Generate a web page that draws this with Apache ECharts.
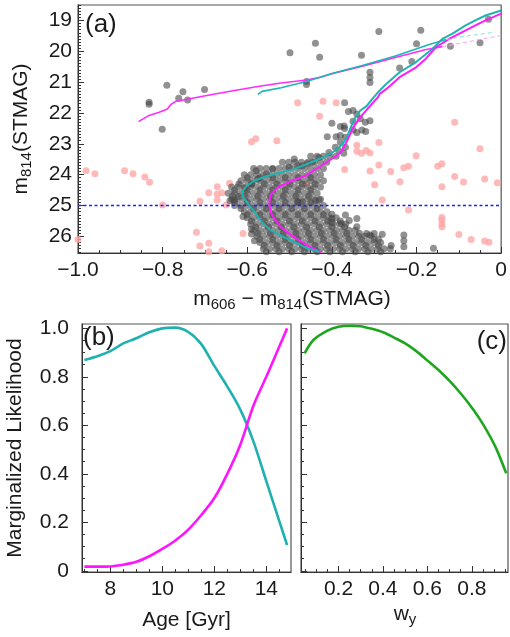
<!DOCTYPE html>
<html><head><meta charset="utf-8">
<script src="https://cdn.jsdelivr.net/npm/echarts@6/dist/echarts.min.js"></script>
<style>html,body{margin:0;padding:0;background:#fff}#c{width:510px;height:637px}</style>
</head><body><div id="c"></div>
<script>
// ---------------- DATA ----------------
// Panel (a): colour-magnitude diagram
const grayRows = [
 [23.4, [-0.450,-0.435,-0.420,-0.405,-0.390]],
 [23.6, [-0.517,-0.502,-0.487,-0.472,-0.457,-0.442,-0.427,-0.412]],
 [23.8, [-0.585,-0.570,-0.555,-0.540,-0.525,-0.510,-0.495,-0.480,-0.465,-0.450,-0.435,-0.420]],
 [24.0, [-0.607,-0.592,-0.577,-0.562,-0.547,-0.532,-0.517,-0.502,-0.487,-0.472,-0.457,-0.442,-0.427]],
 [24.2, [-0.615,-0.600,-0.585,-0.570,-0.555,-0.540,-0.525,-0.510,-0.495,-0.480,-0.465,-0.450,-0.435,-0.420]],
 [24.4, [-0.637,-0.622,-0.607,-0.592,-0.577,-0.562,-0.547,-0.532,-0.517,-0.502,-0.487,-0.472,-0.457,-0.442,-0.427]],
 [24.6, [-0.645,-0.630,-0.615,-0.600,-0.585,-0.570,-0.555,-0.540,-0.525,-0.510,-0.495,-0.480,-0.465,-0.450,-0.435]],
 [24.8, [-0.637,-0.622,-0.607,-0.592,-0.577,-0.562,-0.547,-0.532,-0.517,-0.502,-0.487,-0.472,-0.457,-0.442,-0.427]],
 [25.0, [-0.630,-0.615,-0.600,-0.585,-0.570,-0.555,-0.540,-0.525,-0.510,-0.495,-0.480,-0.465,-0.450,-0.435,-0.420]],
 [25.2, [-0.607,-0.592,-0.577,-0.562,-0.547,-0.532,-0.517,-0.502,-0.487,-0.472,-0.457,-0.442,-0.427,-0.412]],
 [25.4, [-0.600,-0.585,-0.570,-0.555,-0.540,-0.525,-0.510,-0.495,-0.480,-0.465,-0.450,-0.435,-0.420,-0.405,-0.390]],
 [25.6, [-0.592,-0.577,-0.562,-0.547,-0.532,-0.517,-0.502,-0.487,-0.472,-0.457,-0.442,-0.427,-0.412,-0.397,-0.382,-0.367]],
 [25.8, [-0.585,-0.570,-0.555,-0.540,-0.525,-0.510,-0.495,-0.480,-0.465,-0.450,-0.435,-0.420,-0.405,-0.390,-0.375,-0.360,-0.345]],
 [26.0, [-0.577,-0.562,-0.547,-0.532,-0.517,-0.502,-0.487,-0.472,-0.457,-0.442,-0.427,-0.412,-0.397,-0.382,-0.367,-0.352,-0.337,-0.322,-0.307]],
 [26.2, [-0.570,-0.555,-0.540,-0.525,-0.510,-0.495,-0.480,-0.465,-0.450,-0.435,-0.420,-0.405,-0.390,-0.375,-0.360,-0.345,-0.330,-0.315,-0.300,-0.285]],
 [26.4, [-0.562,-0.547,-0.532,-0.517,-0.502,-0.487,-0.472,-0.457,-0.442,-0.427,-0.412,-0.397,-0.382,-0.367,-0.352,-0.337,-0.322,-0.307,-0.292,-0.277,-0.262]]
];
const grayCoreRows = [
 [24.1, [-0.600,-0.570,-0.540,-0.510,-0.480,-0.450]],
 [24.3, [-0.620,-0.590,-0.560,-0.530,-0.500,-0.470,-0.440]],
 [24.5, [-0.630,-0.600,-0.570,-0.540,-0.510,-0.480,-0.450]],
 [24.7, [-0.635,-0.605,-0.575,-0.545,-0.515,-0.485,-0.455]],
 [24.9, [-0.630,-0.600,-0.570,-0.540,-0.510,-0.480,-0.450]],
 [25.1, [-0.615,-0.585,-0.555,-0.525,-0.495,-0.465,-0.435]],
 [25.3, [-0.600,-0.570,-0.540,-0.510,-0.480,-0.450,-0.420]],
 [25.5, [-0.590,-0.560,-0.530,-0.500,-0.470,-0.440,-0.410,-0.380]],
 [25.7, [-0.580,-0.550,-0.520,-0.490,-0.460,-0.430,-0.400,-0.370]],
 [25.9, [-0.575,-0.545,-0.515,-0.485,-0.455,-0.425,-0.395,-0.365,-0.335]],
 [26.1, [-0.570,-0.540,-0.510,-0.480,-0.450,-0.420,-0.390,-0.360,-0.330,-0.300]],
 [26.3, [-0.560,-0.530,-0.500,-0.470,-0.440,-0.410,-0.380,-0.350,-0.320,-0.290,-0.260]],
 [26.5, [-0.555,-0.525,-0.495,-0.465,-0.435,-0.405,-0.375,-0.345,-0.315,-0.285]]
];
const graySparse = [
 [-0.832,21.65],[-0.832,21.72],[-0.790,21.10],[-0.762,21.52],[-0.752,21.31],[-0.741,21.58],[-0.701,21.24],[-0.801,22.53],
 [-0.499,20.05],[-0.439,19.74],[-0.429,20.19],[-0.289,19.36],[-0.190,19.32],[-0.200,19.76],[-0.330,20.13],[-0.240,20.54],
 [-0.211,20.33],[-0.310,20.68],[-0.310,20.85],[-0.310,21.01],[-0.460,20.98],[-0.460,21.08],[-0.120,19.84],[-0.050,19.72],[-0.030,18.96],
 [-0.370,21.67],[-0.361,21.95],[-0.350,21.92],[-0.341,22.03],[-0.350,22.27],[-0.321,22.30],[-0.310,22.25],[-0.400,22.33],
 [-0.380,22.44],[-0.371,22.42],[-0.370,22.50],[-0.411,22.77],[-0.390,22.77],[-0.380,22.73],[-0.350,22.55],[-0.341,22.63],
 [-0.329,22.55],[-0.320,22.60],[-0.333,22.19],[-0.368,22.79],[-0.380,22.95],[-0.392,23.11],[-0.384,23.22],[-0.407,23.28],
 [-0.431,23.44],[-0.489,23.49],[-0.446,23.60],[-0.458,23.65],[-0.470,23.71],[-0.481,23.71],[-0.501,23.76],
 [-0.540,23.82],[-0.555,23.98],[-0.579,23.87],[-0.575,24.14],[-0.590,24.30],[-0.606,24.43],[-0.372,23.31],[-0.368,23.11],
 [-0.481,24.88],[-0.470,24.88],[-0.439,24.84],[-0.430,24.82],[-0.341,25.42],[-0.341,25.69],[-0.359,25.49],[-0.368,25.31],
 [-0.378,25.58],[-0.400,25.28],[-0.400,25.42],[-0.400,25.55],[-0.318,25.91],[-0.310,25.96],[-0.300,25.91],[-0.281,25.93],
 [-0.290,26.09],[-0.230,25.96],[-0.230,26.14],[-0.230,26.34],[-0.160,26.39],
 [-0.621,24.71],[-0.631,24.82],[-0.641,24.85],[-0.610,25.36],[-0.590,25.76],[-0.590,25.92],[-0.583,26.14]
];
const pinkPts = [
 [-1.0,26.1],[-0.981,23.87],[-0.960,23.97],[-0.890,23.87],[-0.870,23.97],[-0.842,24.08],[-0.831,24.25],[-0.800,24.98],
 [-0.712,24.86],[-0.720,25.87],[-0.712,26.31],[-0.691,26.22],[-0.691,26.50],[-0.660,26.47],[-0.691,24.59],[-0.671,24.39],
 [-0.671,24.63],[-0.660,24.59],[-0.671,24.82],[-0.642,24.28],[-0.650,24.98],[-0.610,25.91],
 [-0.590,22.93],[-0.580,22.84],[-0.530,22.90],[-0.481,21.67],[-0.421,21.62],[-0.390,21.67],[-0.429,22.11],[-0.110,22.30],
 [-0.341,23.05],[-0.289,22.96],[-0.050,23.16],[-0.341,23.24],[-0.330,23.31],[-0.319,23.22],[-0.310,23.30],[-0.370,23.83],
 [-0.310,23.88],[-0.460,24.30],[-0.201,23.39],[-0.289,23.69],[-0.261,23.90],[-0.230,23.78],[-0.219,23.73],[-0.150,23.73],
 [-0.140,23.65],[-0.110,24.06],[-0.089,24.24],[-0.039,24.14],[-0.009,24.26],[-0.140,24.39],[-0.239,24.23],[-0.299,24.33],
 [-0.281,24.82],[-0.219,25.15],[-0.140,25.39],[-0.140,25.47],[-0.140,25.60],[-0.140,25.69],[-0.100,25.94],[-0.071,26.10],
 [-0.039,26.15],[-0.029,26.19]
];
const cyanIso = [
 [-0.430,26.50],[-0.460,26.38],[-0.490,26.17],[-0.520,25.98],[-0.547,25.78],[-0.565,25.55],[-0.582,25.22],[-0.598,24.95],
 [-0.610,24.72],[-0.612,24.55],[-0.600,24.35],[-0.582,24.19],[-0.555,24.05],[-0.520,23.93],[-0.490,23.82],[-0.462,23.67],
 [-0.440,23.55],[-0.420,23.43],[-0.400,23.30],[-0.385,23.15],[-0.372,22.95],[-0.362,22.70],[-0.355,22.45],[-0.345,22.15],
 [-0.333,21.92],[-0.318,21.78],[-0.305,21.55],[-0.291,21.33],[-0.271,21.05],[-0.240,20.68],[-0.201,20.35],[-0.162,19.92],
 [-0.139,19.60],[-0.115,19.43],[-0.084,19.16],[-0.061,19.00],[-0.037,18.84],[0.0,18.68]
];
const magentaIso = [
 [-0.425,26.52],[-0.455,26.32],[-0.477,26.14],[-0.500,25.92],[-0.520,25.71],[-0.535,25.45],[-0.545,25.20],[-0.548,24.92],
 [-0.545,24.65],[-0.528,24.41],[-0.493,24.19],[-0.462,24.03],[-0.431,23.76],[-0.407,23.55],[-0.388,23.38],[-0.376,23.22],
 [-0.364,22.90],[-0.349,22.46],[-0.333,22.14],[-0.318,21.90],[-0.300,21.62],[-0.291,21.49],[-0.287,21.38],[-0.271,21.22],
 [-0.240,20.84],[-0.201,20.52],[-0.178,20.24],[-0.154,19.87],[-0.123,19.60],[-0.084,19.32],[-0.061,19.16],[-0.037,19.00],[0.0,18.78]
];
const cyanHB = [[-0.575,21.40],[-0.565,21.30],[-0.520,21.18],[-0.460,20.98],[-0.400,20.72],[-0.330,20.47],[-0.250,20.15],[-0.170,19.78],[-0.130,19.62]];
const cyanHBFaint = [[-0.130,19.62],[-0.090,19.52],[-0.014,19.38]];
const magentaHB = [[-0.857,22.28],[-0.832,22.08],[-0.808,21.98],[-0.789,21.87],[-0.781,21.73],[-0.770,21.63],[-0.699,21.44],[-0.637,21.29],
 [-0.575,21.14],[-0.520,21.03],[-0.460,20.93],[-0.427,20.84],[-0.400,20.73],[-0.330,20.49],[-0.250,20.20],[-0.180,19.95],[-0.139,19.85]];
const magentaHBFaint = [[-0.139,19.85],[-0.070,19.67],[0.0,19.49]];
const magLimit = 25;

// Panel (b): marginalized likelihood vs age
const ageGyr = [7.0,7.5,8.0,8.5,9.0,9.5,10.0,10.5,11.0,11.5,12.0,12.5,13.0,13.5,14.0,14.5,14.8];
const ageLikeCyan = [0.869,0.885,0.906,0.938,0.959,0.984,1.0,1.003,0.985,0.935,0.845,0.760,0.665,0.535,0.37,0.205,0.106];
const ageLikeMagenta = [0.017,0.017,0.018,0.025,0.037,0.060,0.090,0.125,0.170,0.230,0.300,0.400,0.520,0.680,0.800,0.925,1.0];

// Panel (c): marginalized likelihood vs w_y
const wy = [0.047,0.087,0.148,0.2,0.253,0.298,0.35,0.403,0.45,0.5,0.55,0.598,0.65,0.703,0.756,0.808,0.853,0.906,0.955];
const wyLike = [0.897,0.952,0.990,1.007,1.011,1.009,0.998,0.983,0.962,0.938,0.906,0.869,0.828,0.780,0.725,0.663,0.601,0.512,0.402];

// Tick labels
const cmdYTicks = [19,20,21,22,23,24,25,26];
const ageTicks = [8,10,12,14];
const likeTicks = [0,0.2,0.4,0.6,0.8,1.0];
const wyTicks = [0.2,0.4,0.6,0.8];

// ---------------- BUILD ----------------
function minorList(lo, hi, step, major) {
  const out = [];
  const n0 = Math.ceil(lo/step - 1e-9), n1 = Math.floor(hi/step + 1e-9);
  for (let k = n0; k <= n1; k++) {
    const v = +(k*step).toFixed(4);
    if (Math.abs(v/major - Math.round(v/major)) > 1e-6) out.push(v);
  }
  return out;
}
const grayData = grayRows.concat(grayCoreRows).flatMap(([m, xs]) => xs.map(x => [x, m])).concat(graySparse);

const FONT = 'Liberation Sans';
const TXT = '#1a1a1a';
const AX = '#333';
const lbl = (extra) => Object.assign({fontFamily: FONT, fontSize: 21, color: TXT}, extra);
const axLine = {show: true, onZero: false, lineStyle: {color: AX, width: 1}};
const minorAxis = (grid, type, min, max, vals, inverse) => ({
  type: 'value', gridIndex: grid, min, max, inverse: !!inverse,
  position: type === 'x' ? 'bottom' : 'left',
  axisLine: {show: false, onZero: false}, axisLabel: {show: false}, splitLine: {show: false},
  axisTick: {show: true, inside: true, length: 3, customValues: vals, lineStyle: {color: AX, width: 1}}
});

const ranges = {
  a: {x: [-1, 0], y: [18.5, 26.54]},
  b: {x: [6.91, 14.95], y: [-0.005, 1.018]},
  c: {x: [0.031, 0.963], y: [-0.005, 1.018]}
};

const option = {
  animation: false,
  backgroundColor: '#fff',
  grid: [
    {left: 78, top: 5, width: 428, height: 248, show: true, borderColor: '#555', borderWidth: 1.2},
    {left: 82, top: 324, width: 209, height: 248, show: true, borderColor: '#555', borderWidth: 1.2},
    {left: 301, top: 324, width: 207, height: 248, show: true, borderColor: '#555', borderWidth: 1.2}
  ],
  xAxis: [
    {type: 'value', gridIndex: 0, min: ranges.a.x[0], max: ranges.a.x[1], interval: 0.2, position: 'bottom',
     axisLine: axLine, splitLine: {show: false},
     axisTick: {inside: true, length: 6, lineStyle: {color: AX}},
     minorTick: {show: true, splitNumber: 4, length: 3, lineStyle: {color: AX}},
     axisLabel: lbl({margin: 7, formatter: v => Math.abs(v) < 1e-9 ? '0' : '\u2212' + Math.abs(v).toFixed(1)})},
    {type: 'value', gridIndex: 1, min: ranges.b.x[0], max: ranges.b.x[1], position: 'bottom',
     axisLine: axLine, splitLine: {show: false},
     axisTick: {inside: true, length: 6, customValues: ageTicks, lineStyle: {color: AX}},
     axisLabel: lbl({margin: 7, customValues: ageTicks, formatter: v => String(v)})},
    minorAxis(1, 'x', ranges.b.x[0], ranges.b.x[1], minorList(ranges.b.x[0], ranges.b.x[1], 0.5, 2)),
    {type: 'value', gridIndex: 2, min: ranges.c.x[0], max: ranges.c.x[1], position: 'bottom',
     axisLine: axLine, splitLine: {show: false},
     axisTick: {inside: true, length: 6, customValues: wyTicks, lineStyle: {color: AX}},
     axisLabel: lbl({margin: 7, customValues: wyTicks, formatter: v => v.toFixed(1)})},
    minorAxis(2, 'x', ranges.c.x[0], ranges.c.x[1], minorList(ranges.c.x[0], ranges.c.x[1], 0.05, 0.2))
  ],
  yAxis: [
    {type: 'value', gridIndex: 0, min: ranges.a.y[0], max: ranges.a.y[1], inverse: true, position: 'left',
     axisLine: axLine, splitLine: {show: false},
     axisTick: {inside: true, length: 6, customValues: cmdYTicks, lineStyle: {color: AX}},
     axisLabel: lbl({margin: 6, customValues: cmdYTicks, formatter: v => String(v)})},
    minorAxis(0, 'y', ranges.a.y[0], ranges.a.y[1], minorList(ranges.a.y[0], ranges.a.y[1], 0.1, 1), true),
    {type: 'value', gridIndex: 1, min: ranges.b.y[0], max: ranges.b.y[1], position: 'left',
     axisLine: axLine, splitLine: {show: false},
     axisTick: {inside: true, length: 6, customValues: likeTicks, lineStyle: {color: AX}},
     axisLabel: lbl({margin: 13, customValues: likeTicks, formatter: v => Math.abs(v) < 1e-9 ? '0' : v.toFixed(1)})},
    minorAxis(1, 'y', ranges.b.y[0], ranges.b.y[1], minorList(ranges.b.y[0], ranges.b.y[1], 0.05, 0.2)),
    {type: 'value', gridIndex: 2, min: ranges.c.y[0], max: ranges.c.y[1], position: 'left',
     axisLine: axLine, splitLine: {show: false},
     axisTick: {inside: true, length: 6, customValues: likeTicks, lineStyle: {color: AX}},
     axisLabel: {show: false}},
    minorAxis(2, 'y', ranges.c.y[0], ranges.c.y[1], minorList(ranges.c.y[0], ranges.c.y[1], 0.05, 0.2))
  ],
  series: [
    {type: 'scatter', xAxisIndex: 0, yAxisIndex: 0, data: pinkPts, symbolSize: 7,
     itemStyle: {color: '#ffa8a8'}, z: 2},
    {type: 'scatter', xAxisIndex: 0, yAxisIndex: 0, data: grayData, symbolSize: 7,
     itemStyle: {color: 'rgba(70,70,70,0.74)'}, z: 3},
    {type: 'line', xAxisIndex: 0, yAxisIndex: 0, data: ranges.a.x.map(x => [x, magLimit]), showSymbol: false,
     lineStyle: {color: '#1f1fff', width: 1.6, type: [3, 2.5]}, z: 4},
    {type: 'line', xAxisIndex: 0, yAxisIndex: 0, data: magentaHB, showSymbol: false,
     lineStyle: {color: '#ff2bff', width: 1.6}, z: 5},
    {type: 'line', xAxisIndex: 0, yAxisIndex: 0, data: magentaHBFaint, showSymbol: false,
     lineStyle: {color: '#ff9cff', width: 1, type: [4, 3]}, z: 5},
    {type: 'line', xAxisIndex: 0, yAxisIndex: 0, data: magentaIso, showSymbol: false,
     lineStyle: {color: '#ff1cff', width: 2}, z: 5},
    {type: 'line', xAxisIndex: 0, yAxisIndex: 0, data: cyanHB, showSymbol: false,
     lineStyle: {color: '#20b4b4', width: 1.6}, z: 6},
    {type: 'line', xAxisIndex: 0, yAxisIndex: 0, data: cyanHBFaint, showSymbol: false,
     lineStyle: {color: '#8fdcdc', width: 1, type: [4, 3]}, z: 6},
    {type: 'line', xAxisIndex: 0, yAxisIndex: 0, data: cyanIso, showSymbol: false,
     lineStyle: {color: '#1fb2b2', width: 2}, z: 6},
    {type: 'line', xAxisIndex: 1, yAxisIndex: 2, data: ageGyr.map((a, i) => [a, ageLikeCyan[i]]), showSymbol: false,
     smooth: 0.3, lineStyle: {color: '#1fb0b0', width: 2.6}},
    {type: 'line', xAxisIndex: 1, yAxisIndex: 2, data: ageGyr.map((a, i) => [a, ageLikeMagenta[i]]), showSymbol: false,
     smooth: 0.3, lineStyle: {color: '#ff14ff', width: 2.6}},
    {type: 'line', xAxisIndex: 3, yAxisIndex: 4, data: wy.map((w, i) => [w, wyLike[i]]), showSymbol: false,
     smooth: 0.3, lineStyle: {color: '#1fa61f', width: 2.6}}
  ],
  graphic: [
    {type: 'text', x: 85, y: 25, style: {text: '(a)', font: '26px "Liberation Sans"', fill: TXT, textAlign: 'left', textVerticalAlign: 'middle'}},
    {type: 'text', x: 83, y: 338, style: {text: '(b)', font: '26px "Liberation Sans"', fill: TXT, textAlign: 'left', textVerticalAlign: 'middle'}},
    {type: 'text', x: 507, y: 342, style: {text: '(c)', font: '26px "Liberation Sans"', fill: TXT, textAlign: 'right', textVerticalAlign: 'middle'}},
    {type: 'text', x: 21, y: 129, rotation: Math.PI/2,
     style: {text: '{n|m}{s|814}{n|(STMAG)}', textAlign: 'center', textVerticalAlign: 'middle',
       rich: {n: {fontFamily: FONT, fontSize: 21, lineHeight: 26, fill: TXT, color: TXT},
              s: {fontFamily: FONT, fontSize: 15, lineHeight: 15, verticalAlign: 'bottom', fill: TXT, color: TXT}}}},
    {type: 'text', x: 292, y: 299,
     style: {text: '{n|m}{s|606}{n| \u2212 m}{s|814}{n|(STMAG)}', textAlign: 'center', textVerticalAlign: 'middle',
       rich: {n: {fontFamily: FONT, fontSize: 21, lineHeight: 26, fill: TXT, color: TXT},
              s: {fontFamily: FONT, fontSize: 15, lineHeight: 15, verticalAlign: 'bottom', fill: TXT, color: TXT}}}},
    {type: 'text', x: 15.5, y: 448, rotation: Math.PI/2,
     style: {text: 'Marginalized Likelihood', font: '21px "Liberation Sans"', fill: TXT, textAlign: 'center', textVerticalAlign: 'middle'}},
    {type: 'text', x: 186.5, y: 620,
     style: {text: 'Age [Gyr]', font: '21px "Liberation Sans"', fill: TXT, textAlign: 'center', textVerticalAlign: 'middle'}},
    {type: 'text', x: 405, y: 614,
     style: {text: '{n|w}{s|y}', textAlign: 'center', textVerticalAlign: 'middle',
       rich: {n: {fontFamily: FONT, fontSize: 21, lineHeight: 26, fill: TXT, color: TXT},
              s: {fontFamily: FONT, fontSize: 15, lineHeight: 15, verticalAlign: 'bottom', fill: TXT, color: TXT}}}}
  ]
};
const chart = echarts.init(document.getElementById('c'), null, {renderer: 'canvas'});
chart.setOption(option);
</script></body></html>
